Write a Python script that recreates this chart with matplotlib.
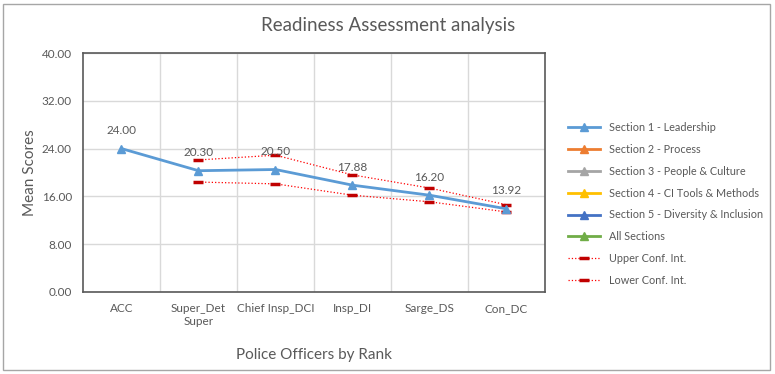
import numpy as np
import matplotlib.pyplot as plt
from matplotlib.patches import Rectangle

plt.rcParams['font.family'] = ['Lato', 'DejaVu Sans']

ranks = ['ACC', 'Super_Det\nSuper', 'Chief Insp_DCI', 'Insp_DI', 'Sarge_DS', 'Con_DC']
leadership = [24.00, 20.30, 20.50, 17.88, 16.20, 13.92]
upper_ci = [np.nan, 22.1, 22.9, 19.6, 17.4, 14.6]
lower_ci = [np.nan, 18.4, 18.1, 16.2, 15.1, 13.4]

empty_series = ['Section 2 - Process', 'Section 3 - People & Culture',
                'Section 4 - CI Tools & Methods', 'Section 5 - Diversity & Inclusion',
                'All Sections']
empty_colors = ['#ED7D31', '#A5A5A5', '#FFC000', '#4472C4', '#70AD47']

txt = '#595959'

fig = plt.figure(figsize=(7.75, 3.74), dpi=100)
ax = fig.add_axes([83 / 775, 1 - 292 / 374, 462 / 775, 239 / 374])

x = np.arange(len(ranks))
ax.plot(x, leadership, color='#5B9BD5', lw=2, marker='^', ms=6,
        label='Section 1 - Leadership', zorder=4)
for name, c in zip(empty_series, empty_colors):
    ax.plot([], [], color=c, lw=2, marker='^', ms=6, label=name)
ax.plot(x, upper_ci, color='#FF0000', lw=0.9, ls=':', marker='_', ms=7, mew=2.5,
        mec='#C00000', label='Upper Conf. Int.', zorder=3)
ax.plot(x, lower_ci, color='#FF0000', lw=0.9, ls=':', marker='_', ms=7, mew=2.5,
        mec='#C00000', label='Lower Conf. Int.', zorder=3)

for xi, v in zip(x, leadership):
    ax.annotate(f'{v:.2f}', (xi, v), xytext=(0, 13), textcoords='offset points',
                ha='center', va='center', fontsize=8.5, color=txt)

ax.set_xlim(-0.5, len(ranks) - 0.5)
ax.set_ylim(0, 40)
ax.set_yticks(np.arange(0, 41, 8))
ax.set_yticklabels([f'{v:.2f}' for v in np.arange(0, 41, 8)])
ax.set_xticks(x)
ax.set_xticklabels(ranks)
ax.set_xticks(np.arange(0.5, len(ranks) - 1, 1), minor=True)
ax.tick_params(which='both', length=0, labelsize=8.5, labelcolor=txt)
ax.tick_params(axis='x', pad=8)
ax.tick_params(axis='y', pad=8)
ax.grid(True, axis='y', color='#D9D9D9', lw=1)
ax.grid(True, axis='x', which='minor', color='#D9D9D9', lw=1)
ax.set_axisbelow(True)
for s in ax.spines.values():
    s.set_color('#595959')
    s.set_linewidth(1.2)

ax.set_ylabel('Mean Scores', fontsize=11, color=txt, labelpad=3)
fig.text(314 / 775, 1 - 355 / 374, 'Police Officers by Rank', ha='center', va='center',
         fontsize=11, color=txt)
fig.text(388 / 775, 1 - 25 / 374, 'Readiness Assessment analysis', ha='center', va='center',
         fontsize=13.5, color=txt)

fig.legend(loc='center left', bbox_to_anchor=(558 / 775, 1 - 204 / 374), frameon=False,
           fontsize=7.8, labelcolor=txt, handlelength=3, labelspacing=1.0)

fig.patches.append(Rectangle((0.004, 0.012), 0.99, 0.978, transform=fig.transFigure,
                             fill=False, ec='#A6A6A6', lw=1))

plt.savefig('out.png', dpi=100)
